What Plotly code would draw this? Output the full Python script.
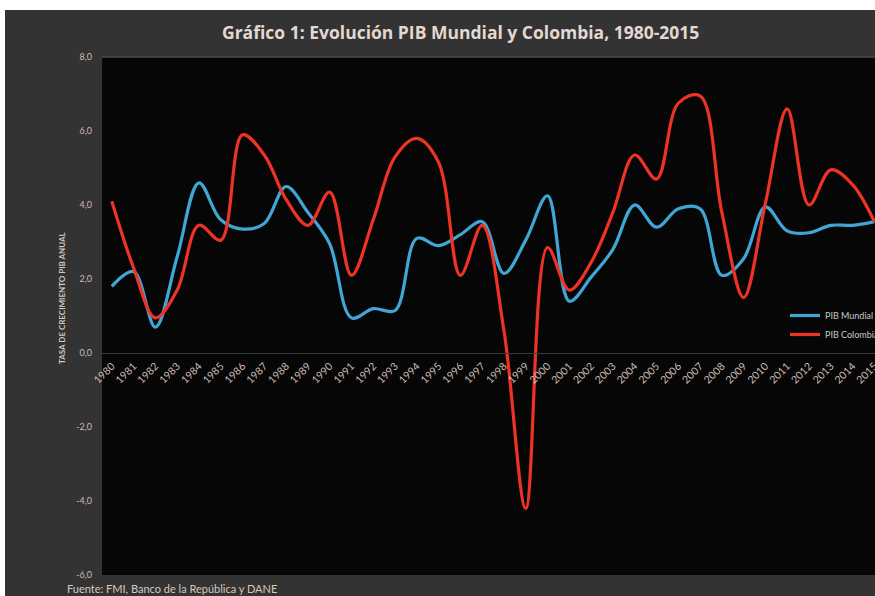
import plotly.graph_objects as go

years = list(range(1980, 2016))
pib_mundial = [1.8, 2.2, 0.7, 2.6, 4.6, 3.6, 3.35, 3.5, 4.5, 3.8, 2.95, 0.95, 1.2, 1.15, 3.1, 2.9, 3.2, 3.55, 2.15, 3.05, 4.25, 1.4,
               2.05, 2.8, 4.0, 3.4, 3.9, 3.9, 2.1, 2.55, 3.95, 3.3, 3.25, 3.45, 3.45, 3.55]
pib_colombia = [4.1, 2.3, 0.95, 1.7, 3.45, 3.05, 5.9, 5.35, 4.15, 3.45, 4.35, 2.1, 3.6, 5.3, 5.8, 5.15, 2.1, 3.45, 0.6, -4.2, 2.85, 1.7,
                2.45, 3.8, 5.35, 4.7, 6.75, 6.95, 3.8, 1.5, 4.05, 6.6, 4.0, 4.95, 4.55, 3.55]
year_labels = [str(y) for y in years]
y_ticks = [-6, -4, -2, 0, 2, 4, 6, 8]
y_labels = ["-6,0", "-4,0", "-2,0", "0,0", "2,0", "4,0", "6,0", "8,0"]

W, H = 875, 596
L, R, T, B = 102, 0, 57, 21
pw, ph = W - L - R, H - T - B


def px(xp):
    return (xp - L) / pw


def py(yp):
    return (H - B - yp) / ph


fig = go.Figure()
fig.add_trace(go.Scatter(x=years, y=pib_mundial, mode="lines", name="PIB Mundial",
                         line=dict(color="#3fa6d6", width=3.2, shape="spline", smoothing=1.0)))
fig.add_trace(go.Scatter(x=years, y=pib_colombia, mode="lines", name="PIB Colombia",
                         line=dict(color="#ec3326", width=3.2, shape="spline", smoothing=1.0)))

lab_col = "#cdbcb3"
fig.update_layout(
    width=W, height=H, autosize=False,
    margin=dict(l=L, r=R, t=T, b=B, autoexpand=False),
    paper_bgcolor="#333333",
    plot_bgcolor="#060606",
    font=dict(family="Lato, Open Sans, sans-serif", color=lab_col),
    showlegend=True,
    legend=dict(x=px(785), y=py(301), xanchor="left", yanchor="top",
                bgcolor="rgba(0,0,0,0)", font=dict(size=9, color="#c8c8c8"),
                tracegroupgap=0),
    xaxis=dict(range=[1979.55, 2015.03], tickvals=years, ticktext=year_labels,
               tickangle=-45, showgrid=False, zeroline=False, ticklabeloverflow="allow",
               anchor="free", position=6 / 14, showline=True, linecolor="#3a3a3a", linewidth=1,
               ticks="", tickfont=dict(size=10.5, color=lab_col), ticklabelstandoff=2),
    yaxis=dict(range=[-6, 8], tickvals=y_ticks, ticktext=y_labels, showgrid=False,
               zeroline=False, showline=False, ticks="", ticklabelstandoff=9,
               tickfont=dict(size=9, color=lab_col)),
    shapes=[
        dict(type="rect", xref="paper", yref="paper", x0=px(0), x1=1.02, y0=py(10), y1=py(-2),
             fillcolor="white", line=dict(width=0), layer="below"),
        dict(type="rect", xref="paper", yref="paper", x0=px(-2), x1=px(5), y0=py(600), y1=py(-2),
             fillcolor="white", line=dict(width=0), layer="below"),
        dict(type="line", xref="paper", yref="paper", x0=0, x1=1, y0=1, y1=1,
             line=dict(color="#4a4a4a", width=1.5), layer="above"),
    ],
    annotations=[
        dict(text="<b>Gráfico 1: Evolución PIB Mundial y Colombia, 1980-2015</b>",
             xref="paper", yref="paper", x=px(460), y=py(32), xanchor="center", yanchor="middle",
             showarrow=False, font=dict(size=17.5, color="#e4d8d2", family="Open Sans, Lato, sans-serif")),
        dict(text="<b>TASA DE CRECIMIENTO PIB ANUAL</b>", textangle=-90,
             xref="paper", yref="paper", x=px(62), y=py(298), xanchor="center", yanchor="middle",
             showarrow=False, font=dict(size=8, color="#d6c8c0")),
        dict(text="Fuente: FMI, Banco de la República y DANE",
             xref="paper", yref="paper", x=px(65), y=py(588), xanchor="left", yanchor="middle",
             showarrow=False, font=dict(size=11, color="#d8c8bc")),
    ],
)

fig.write_html("out.html",
               config={"displayModeBar": False, "responsive": False},
               post_script="document.body.style.margin='0';document.body.style.padding='0';"
                           "document.body.style.overflow='hidden';"
                           "document.documentElement.style.overflow='hidden';")
